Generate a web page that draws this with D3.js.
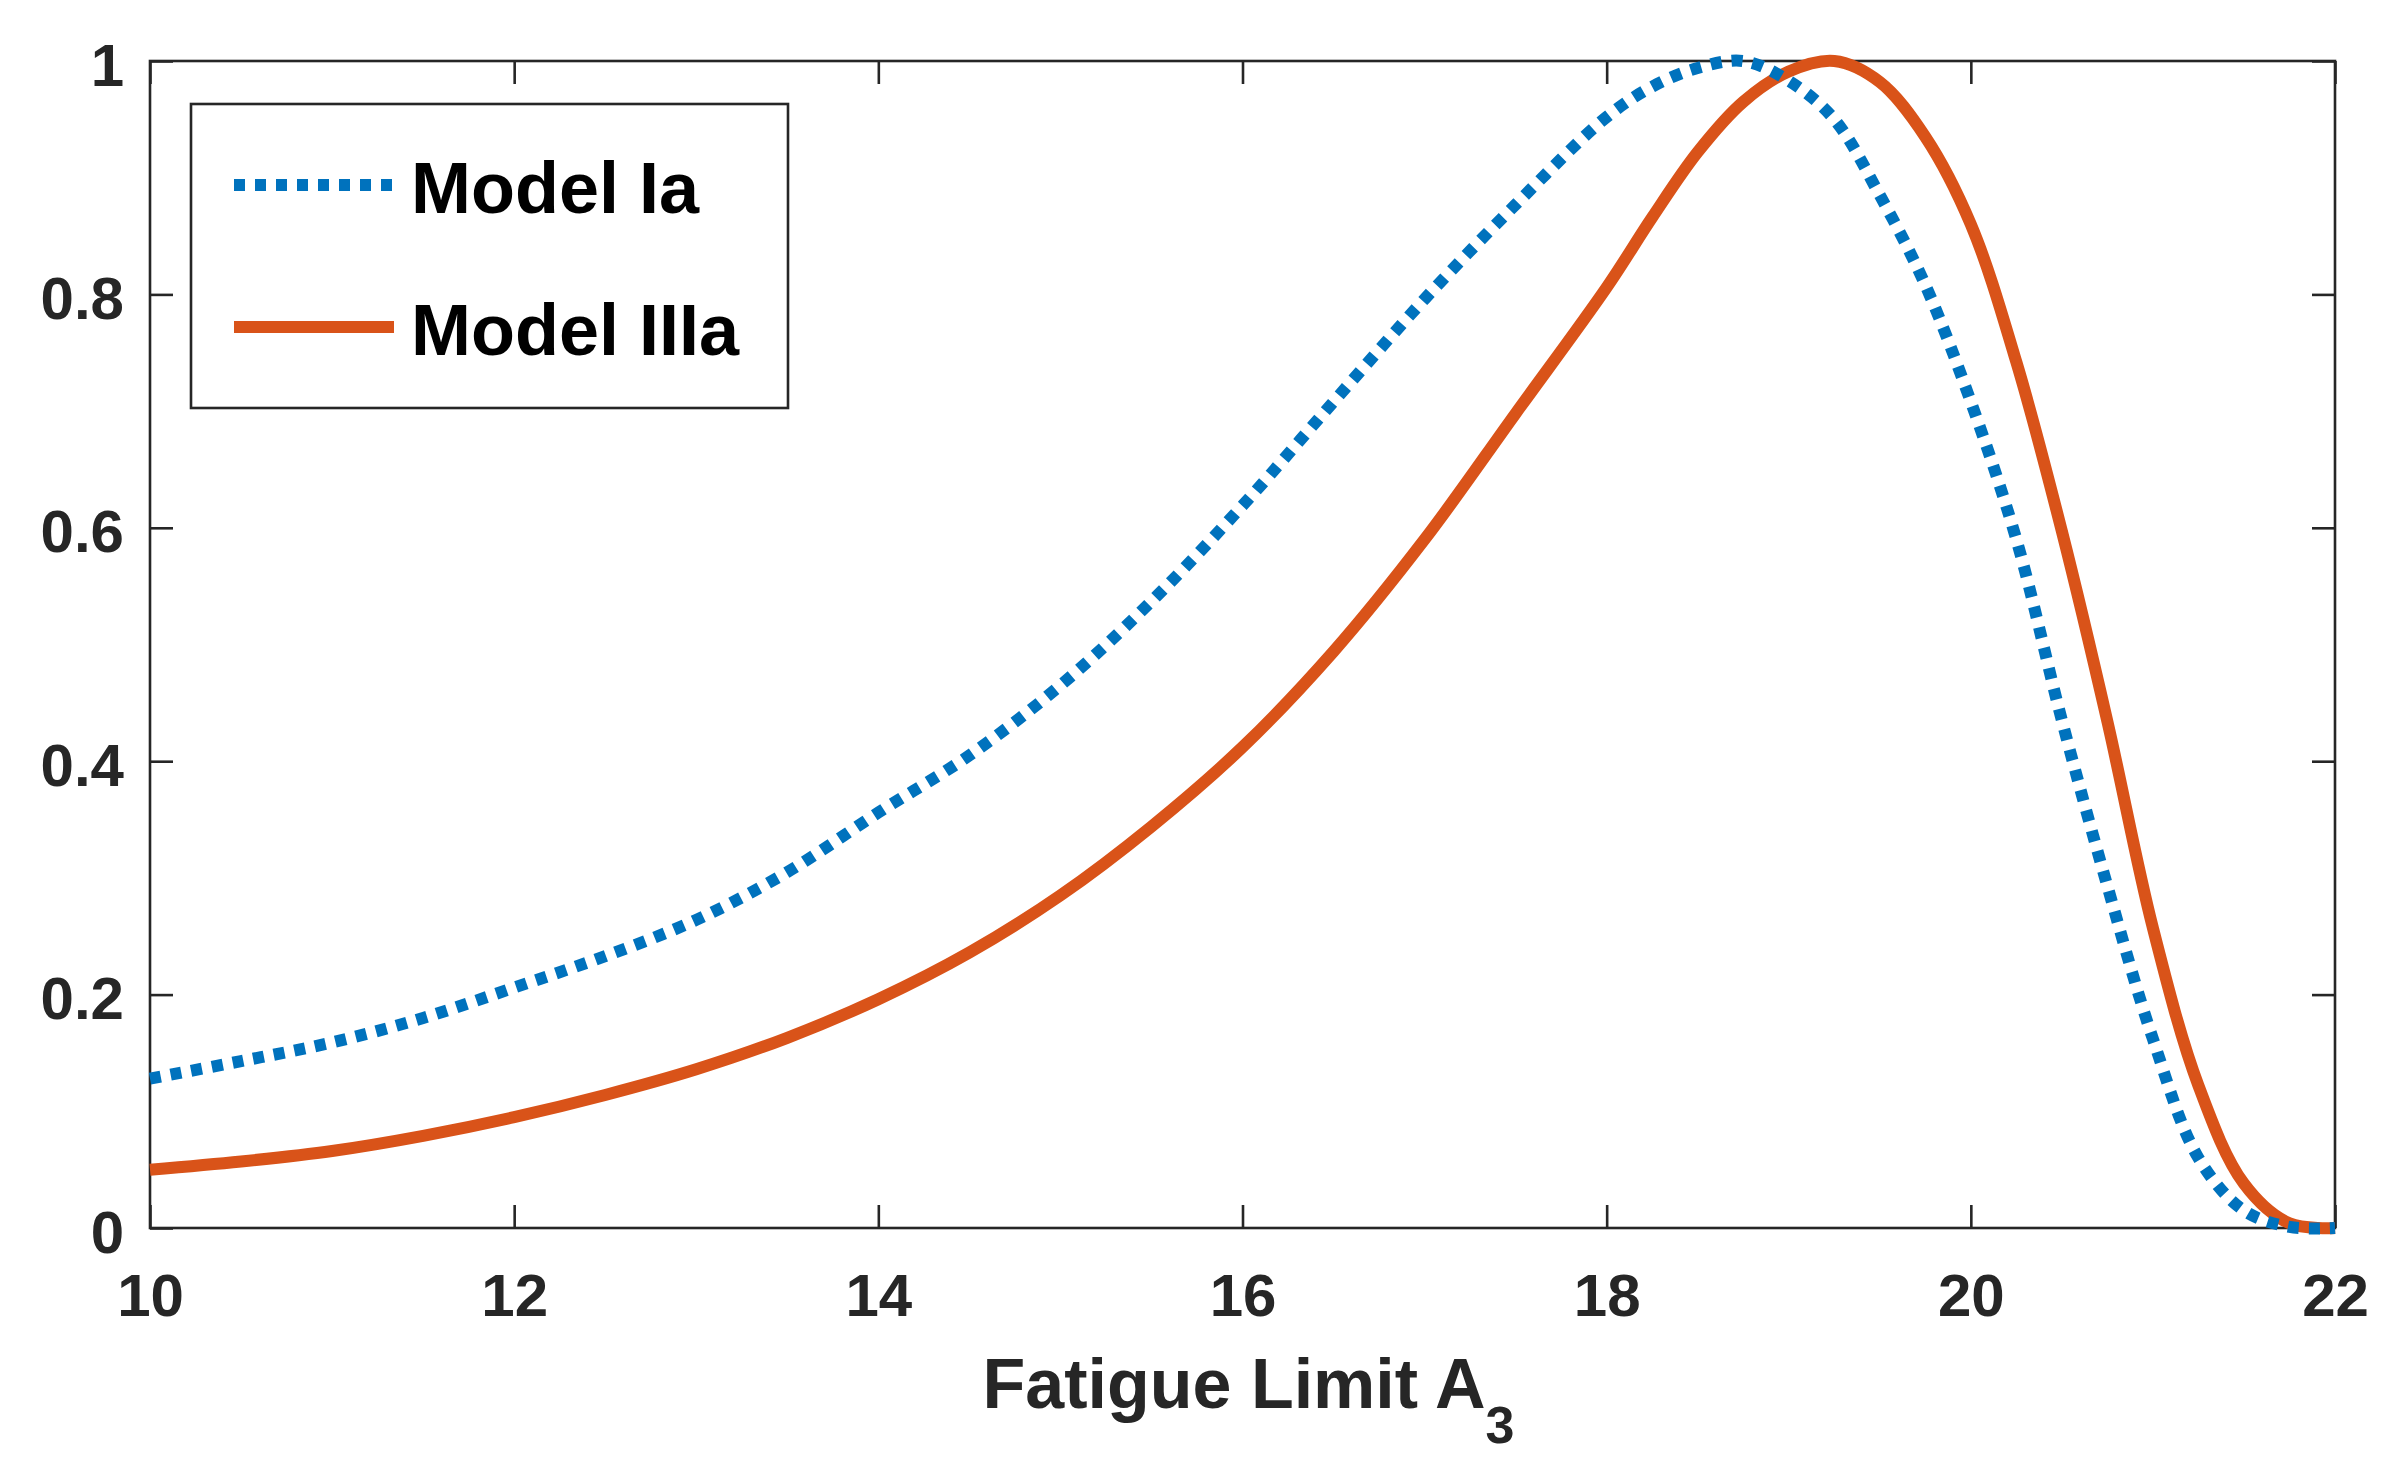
<!DOCTYPE html>
<html>
<head>
<meta charset="utf-8">
<script src="https://cdn.jsdelivr.net/npm/d3@7"></script>
<style>
  body { margin: 0; background: #fff; }
  text { font-family: "Liberation Sans", Arial, Helvetica, sans-serif; font-weight: bold; }
</style>
</head>
<body>
<div id="chart"></div>
<script>
// values
const fatigueLimit = [10, 10.5, 11, 11.5, 12, 12.5, 13, 13.5, 14, 14.5, 15, 15.5, 16, 16.5, 17, 17.5,
  18, 18.25, 18.5, 18.75, 19, 19.25, 19.5, 19.75, 20, 20.25, 20.5, 20.75, 21, 21.25, 21.5, 21.75, 22];
const modelIa = [0.128, 0.143, 0.159, 0.18, 0.206, 0.233, 0.264, 0.305, 0.356, 0.405, 0.465, 0.537,
  0.619, 0.708, 0.796, 0.877, 0.952, 0.978, 0.994, 1.0, 0.983, 0.95, 0.885, 0.808, 0.708, 0.59,
  0.435, 0.293, 0.162, 0.06, 0.015, 0.001, 0];
const modelIIIa = [0.05, 0.057, 0.066, 0.079, 0.095, 0.114, 0.136, 0.163, 0.196, 0.236, 0.285, 0.344,
  0.412, 0.494, 0.59, 0.698, 0.806, 0.866, 0.922, 0.965, 0.991, 1.0, 0.982, 0.935, 0.86, 0.742,
  0.597, 0.434, 0.257, 0.122, 0.038, 0.004, 0];
const seriesNames = ["Model Ia", "Model IIIa"];
const xTicks = [10, 12, 14, 16, 18, 20, 22];
const yTicks = [0, 0.2, 0.4, 0.6, 0.8, 1];

const W = 2398, H = 1478;
const margin = { top: 61, right: 63, bottom: 250, left: 150 };
const width = W - margin.left - margin.right;
const height = H - margin.top - margin.bottom;
const ink = "#262626";

const svg = d3.select("#chart").append("svg")
  .attr("width", W).attr("height", H)
  .style("background", "#fff");

const g = svg.append("g")
  .attr("transform", "translate(" + margin.left + "," + margin.top + ")");

const x = d3.scaleLinear().domain([10, 22]).range([0, width]);
const y = d3.scaleLinear().domain([0, 1]).range([height, 0]);

const fmt = (d) => (d === 0 || d === 1 ? String(d) : d3.format(".1f")(d));

// bottom axis with labels, ticks pointing inwards
const xAxis = g.append("g")
  .attr("transform", "translate(0," + height + ")")
  .call(d3.axisBottom(x).tickValues(xTicks).tickSizeInner(-23).tickSizeOuter(0).tickPadding(45).tickFormat(d3.format("d")));

const yAxis = g.append("g")
  .call(d3.axisLeft(y).tickValues(yTicks).tickSizeInner(-23).tickSizeOuter(0).tickPadding(26).tickFormat(fmt));

// mirrored ticks on top and right (box on)
const xTop = g.append("g")
  .call(d3.axisTop(x).tickValues(xTicks).tickSizeInner(-23).tickSizeOuter(0).tickFormat(""));
const yRight = g.append("g")
  .attr("transform", "translate(" + width + ",0)")
  .call(d3.axisRight(y).tickValues(yTicks).tickSizeInner(-23).tickSizeOuter(0).tickFormat(""));

[xAxis, yAxis, xTop, yRight].forEach((a) => {
  a.select(".domain").remove();
  a.selectAll(".tick line").attr("stroke", ink).attr("stroke-width", 2.6);
  a.selectAll(".tick text").attr("fill", ink).style("font-size", "60px");
});
yAxis.selectAll(".tick text").attr("dy", "0.4em");

// axes box
g.append("rect")
  .attr("x", 0).attr("y", 0)
  .attr("width", width).attr("height", height)
  .attr("fill", "none")
  .attr("stroke", ink)
  .attr("stroke-width", 2.6);

// x label with subscript
const xl = g.append("text")
  .attr("x", width / 2 + 6)
  .attr("y", height + 180)
  .attr("text-anchor", "middle")
  .attr("fill", ink)
  .style("font-size", "70px");
xl.append("tspan").text("Fatigue Limit A");
xl.append("tspan").attr("dy", 35).style("font-size", "52px").text("3");

// curves
const line = (ys) => d3.line()
  .x((d, i) => x(fatigueLimit[i]))
  .y((d) => y(d))
  .curve(d3.curveCatmullRom.alpha(0.5))(ys);

g.append("path")
  .attr("d", line(modelIIIa))
  .attr("fill", "none")
  .attr("stroke", "#D95319")
  .attr("stroke-width", 12);

g.append("path")
  .attr("d", line(modelIa))
  .attr("fill", "none")
  .attr("stroke", "#0072BD")
  .attr("stroke-width", 12)
  .attr("stroke-dasharray", "11 10");

// legend
const leg = svg.append("g").attr("transform", "translate(191,104)");
leg.append("rect")
  .attr("width", 597).attr("height", 304)
  .attr("fill", "#fff")
  .attr("stroke", ink)
  .attr("stroke-width", 2.6);

const legStyles = [
  { color: "#0072BD", dash: "11 10", y: 81 },
  { color: "#D95319", dash: null, y: 223 },
];
seriesNames.forEach((name, i) => {
  const s = legStyles[i];
  leg.append("line")
    .attr("x1", 43).attr("x2", 203)
    .attr("y1", s.y).attr("y2", s.y)
    .attr("stroke", s.color)
    .attr("stroke-width", 12)
    .attr("stroke-dasharray", s.dash);
  leg.append("text")
    .attr("x", 220)
    .attr("y", s.y + 28)
    .attr("fill", "#000")
    .style("font-size", "72px")
    .text(name);
});
</script>
</body>
</html>
